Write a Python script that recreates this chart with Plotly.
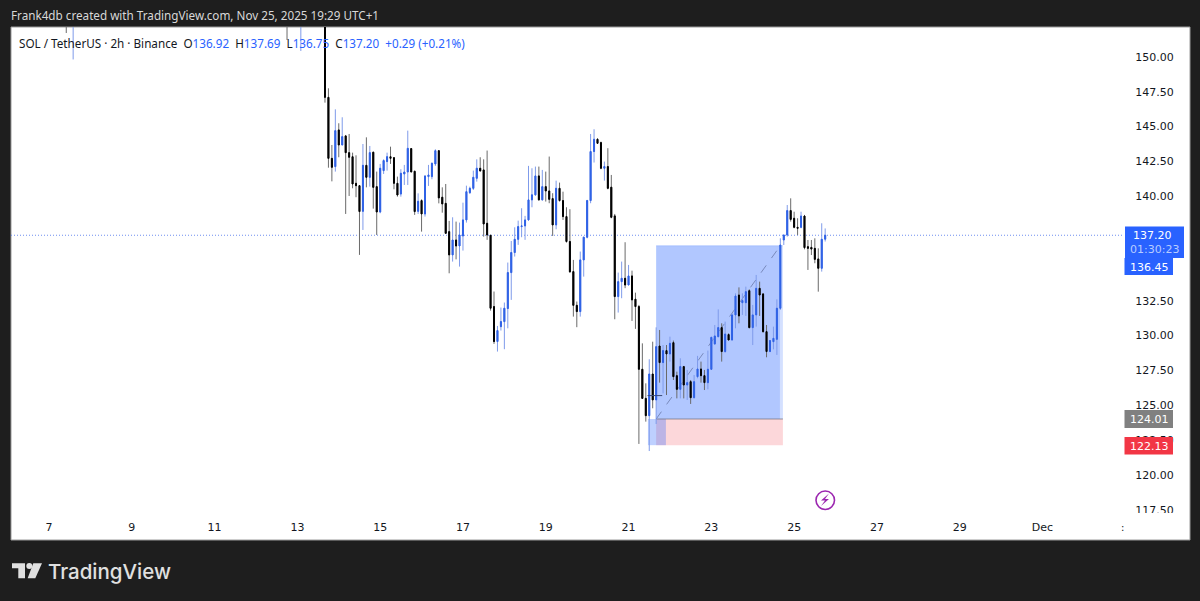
import pandas as pd
import plotly.graph_objects as go

# candles above the visible price range, only their lower wicks show
off_dates = ['2025-11-07 10:00', '2025-11-07 14:00', '2025-11-12 18:00', '2025-11-13 02:00']
off_open = [155.2, 153.0, 156.1, 154.2]
off_high = [156.4, 155.8, 157.3, 156.9]
off_low = [151.72, 149.82, 151.22, 150.43]
off_close = [154.1, 154.6, 155.0, 155.6]

first_bar = '2025-11-13 16:00'
candle_open = [
    153.2, 147.10, 142.72, 142.13, 144.76, 143.68, 144.33, 143.13, 142.84, 140.93,
    140.76, 138.92, 142.22, 141.36, 143.16, 140.69, 138.87, 141.84, 142.49, 142.84,
    142.77, 140.93, 140.16, 141.60, 141.74, 143.42, 141.79, 138.92, 139.69, 138.73,
    141.41, 141.41, 142.32, 143.27, 139.93, 139.49, 137.46, 135.79, 136.86, 136.43,
    137.15, 138.30, 140.26, 140.57, 141.29, 142.01, 141.89, 138.06, 137.20, 132.08,
    129.57, 130.64, 131.00, 131.94, 134.52, 135.96, 136.91, 137.82, 137.87, 138.30,
    139.74, 140.10, 141.46, 139.74, 140.69, 140.38, 139.83, 137.94, 140.57, 139.69,
    138.54, 136.75, 134.59, 132.17, 131.72, 135.43, 137.06, 139.69, 143.21, 144.09,
    143.85, 142.01, 142.13, 140.65, 138.59, 132.80, 133.87, 134.11, 133.63, 134.28,
    132.61, 132.08, 127.58, 125.49, 124.25, 127.24, 125.38, 129.25, 128.06, 128.92,
    128.68, 129.49, 127.12, 126.14, 127.77, 126.45, 126.69, 125.54, 127.05, 127.60,
    127.12, 126.62, 127.58, 129.40, 129.92, 130.57, 128.85, 130.07, 129.68, 131.48,
    132.91, 132.36, 132.36, 133.22, 130.57, 131.48, 133.39, 132.99, 130.28, 128.85,
    129.56, 129.73, 131.96, 136.86, 137.22, 138.97, 138.42, 137.77, 137.77, 138.58,
    136.38, 136.33, 136.26, 135.50, 134.83, 136.92,
]
candle_high = [
    154.0, 147.75, 143.68, 146.24, 145.24, 145.67, 144.40, 144.47, 143.13, 142.94,
    140.76, 143.75, 144.23, 143.61, 143.20, 141.77, 142.32, 142.65, 143.13, 143.56,
    142.80, 141.41, 141.94, 142.25, 144.71, 143.44, 141.84, 140.21, 139.78, 141.46,
    142.25, 142.41, 143.37, 143.32, 140.64, 140.88, 138.23, 138.49, 138.18, 138.11,
    139.54, 140.76, 140.69, 141.84, 142.65, 142.80, 142.65, 143.28, 137.22, 133.16,
    130.69, 132.01, 132.37, 135.24, 136.79, 137.77, 138.25, 139.14, 138.59, 142.18,
    142.01, 142.13, 142.13, 141.89, 141.77, 142.85, 140.22, 141.12, 140.98, 140.33,
    139.21, 139.07, 135.43, 132.44, 136.03, 137.10, 139.74, 144.47, 144.81, 144.16,
    143.92, 142.49, 143.45, 141.53, 138.73, 134.52, 135.31, 136.70, 135.07, 134.66,
    133.08, 132.20, 129.44, 126.57, 128.30, 129.56, 130.59, 130.40, 129.32, 129.32,
    129.92, 129.64, 127.41, 128.37, 127.82, 127.53, 126.81, 127.17, 128.54, 128.13,
    127.53, 128.92, 129.92, 130.76, 131.88, 130.88, 131.00, 130.16, 131.60, 133.03,
    133.46, 133.03, 133.51, 133.32, 132.20, 134.35, 133.87, 133.03, 130.76, 129.64,
    130.64, 132.60, 136.98, 137.22, 139.37, 139.85, 138.89, 138.42, 138.89, 138.66,
    136.86, 136.86, 136.98, 136.26, 138.06, 137.69,
]
candle_low = [
    146.72, 142.05, 141.07, 141.77, 142.80, 143.68, 138.73, 140.02, 140.57, 139.93,
    135.79, 137.58, 140.64, 140.69, 139.11, 137.22, 138.78, 141.60, 141.84, 142.32,
    140.50, 139.97, 139.97, 140.81, 140.81, 141.74, 138.66, 138.73, 137.46, 138.54,
    140.74, 141.22, 142.18, 139.49, 138.82, 137.29, 134.47, 135.31, 135.47, 134.95,
    136.10, 138.11, 140.16, 140.45, 141.05, 141.77, 137.10, 136.87, 131.79, 129.40,
    128.85, 130.36, 129.02, 130.52, 132.56, 135.67, 136.51, 137.06, 136.87, 138.25,
    139.21, 140.04, 139.69, 139.69, 139.62, 139.50, 137.15, 137.63, 139.62, 138.30,
    136.67, 134.52, 131.36, 130.60, 131.36, 134.23, 136.98, 139.50, 142.42, 143.76,
    141.94, 141.12, 140.50, 138.42, 131.17, 131.65, 132.68, 133.40, 133.63, 131.05,
    130.48, 122.22, 125.45, 123.82, 121.71, 124.78, 123.65, 126.62, 125.85, 125.73,
    128.13, 126.81, 125.49, 125.49, 125.49, 125.38, 125.09, 125.49, 126.93, 126.62,
    126.09, 126.14, 127.53, 129.32, 129.87, 128.13, 128.77, 129.68, 129.64, 130.52,
    130.88, 131.48, 131.41, 130.52, 129.32, 130.64, 131.41, 130.21, 128.44, 128.85,
    129.01, 128.61, 131.84, 136.50, 137.10, 138.18, 137.70, 137.22, 137.70, 136.19,
    134.71, 135.78, 135.19, 133.15, 134.59, 136.75,
]
candle_close = [
    147.10, 142.72, 142.08, 144.71, 143.68, 144.28, 143.13, 142.80, 140.88, 140.76,
    138.90, 142.22, 141.36, 143.13, 140.64, 138.87, 142.01, 142.56, 142.84, 142.72,
    140.93, 140.09, 141.65, 141.74, 143.44, 141.74, 138.90, 139.64, 138.73, 141.46,
    141.53, 142.37, 143.27, 139.88, 139.45, 137.34, 135.79, 136.86, 136.43, 137.22,
    138.30, 140.33, 140.57, 141.36, 142.01, 141.82, 138.01, 137.22, 131.96, 129.57,
    130.36, 131.00, 131.96, 134.52, 135.96, 136.91, 137.82, 137.87, 138.30, 139.74,
    140.10, 141.46, 139.74, 140.69, 140.38, 139.78, 137.94, 140.57, 139.69, 138.54,
    136.75, 134.57, 132.17, 131.72, 135.43, 137.06, 139.69, 143.21, 144.09, 143.80,
    142.01, 142.13, 140.57, 138.49, 132.80, 133.87, 134.11, 133.63, 134.28, 132.56,
    132.08, 127.58, 125.49, 124.25, 127.24, 125.38, 129.20, 128.06, 128.92, 128.68,
    129.44, 127.05, 126.14, 127.77, 126.45, 126.62, 125.54, 126.69, 127.60, 127.12,
    126.62, 127.58, 129.87, 129.97, 130.57, 128.85, 130.11, 129.68, 131.48, 132.84,
    131.41, 132.51, 133.15, 130.57, 131.48, 133.39, 132.91, 130.28, 128.85, 129.64,
    129.80, 131.96, 136.50, 137.22, 138.97, 138.34, 137.77, 137.70, 138.58, 136.31,
    136.26, 136.21, 135.47, 134.83, 136.91, 137.20,
]

last_price = 137.20
target_price = 136.45
entry_price = 124.01
stop_price = 122.13
marker_price = 125.69

price_ticks = [117.5, 120, 122.5, 125, 127.5, 130, 132.5, 140, 142.5, 145, 147.5, 150]
date_ticks = ['2025-11-07', '2025-11-09', '2025-11-11', '2025-11-13', '2025-11-15', '2025-11-17',
              '2025-11-19', '2025-11-21', '2025-11-23', '2025-11-25', '2025-11-27', '2025-11-29',
              '2025-12-01']
date_labels = ['7', '9', '11', '13', '15', '17', '19', '21', '23', '25', '27', '29', 'Dec']

BLUE = '#2f62e6'
BLUE_WICK = '#7f9bea'
BLACK = '#000000'
BLACK_WICK = '#6a6a6a'
DARK = '#1e1e1e'
FONT = 'DejaVu Sans'


def px_x(x):
    return (x - 11) / 1111


def px_y(y):
    return (514 - y) / 487


def box(x0, y0, x1, y1, color, layer='above', line=None):
    fig.add_shape(type='rect', xref='paper', yref='paper', x0=px_x(x0), x1=px_x(x1),
                  y0=px_y(y1), y1=px_y(y0), fillcolor=color, layer=layer,
                  line=dict(color=line or color, width=1 if line else 0))


def label(x, y, text, color='#131722', size=11, anchor='center', font=FONT, weight=None):
    fig.add_annotation(xref='paper', yref='paper', x=px_x(x), y=px_y(y), text=text,
                       showarrow=False, xanchor=anchor, yanchor='middle',
                       font=dict(color=color, size=size, family=font, weight=weight))


dates = pd.date_range(first_bar, periods=len(candle_close), freq='2h')
x = list(pd.to_datetime(off_dates)) + list(dates)
opens = off_open + candle_open
highs = off_high + candle_high
lows = off_low + candle_low
closes = off_close + candle_close

fig = go.Figure()

# TradingView wicks look paler than the bodies, so draw them as a separate trace
fig.add_trace(go.Candlestick(
    x=x, open=opens, high=highs, low=lows, close=closes, hoverinfo='skip', showlegend=False,
    increasing=dict(line=dict(color=BLUE_WICK, width=1), fillcolor=BLUE),
    decreasing=dict(line=dict(color=BLACK_WICK, width=1), fillcolor=BLACK)))
fig.add_trace(go.Candlestick(
    x=x, open=opens, close=closes, hoverinfo='skip', showlegend=False,
    high=[max(o, c) for o, c in zip(opens, closes)],
    low=[min(o, c) for o, c in zip(opens, closes)],
    increasing=dict(line=dict(color=BLUE, width=1), fillcolor=BLUE),
    decreasing=dict(line=dict(color=BLACK, width=1), fillcolor=BLACK)))

# white chart panel, extends past the plot under the price and time scales
box(11, 27, 1190, 540, '#ffffff', layer='below', line='#9a9a9a')

# long position tool
fig.add_shape(type='rect', x0='2025-11-21 16:00', x1='2025-11-24 17:30', y0=entry_price, y1=target_price,
              fillcolor='rgba(41,98,255,0.2)', line=dict(width=0), layer='below')
fig.add_shape(type='rect', x0='2025-11-21 16:00', x1='2025-11-24 15:45', y0=entry_price, y1=target_price,
              fillcolor='rgba(41,98,255,0.2)', line=dict(width=0), layer='below')
fig.add_shape(type='rect', x0='2025-11-21 16:00', x1='2025-11-24 17:30', y0=stop_price, y1=entry_price,
              fillcolor='rgba(242,54,69,0.2)', line=dict(width=0), layer='below')
fig.add_shape(type='rect', x0='2025-11-21 11:15', x1='2025-11-21 21:40', y0=stop_price, y1=entry_price,
              fillcolor='rgba(41,98,255,0.3)', line=dict(width=0), layer='below')
fig.add_shape(type='line', x0='2025-11-21 16:00', x1='2025-11-24 17:30', y0=entry_price, y1=entry_price,
              line=dict(color='rgba(110,110,120,0.7)', width=1), layer='below')
fig.add_shape(type='line', x0='2025-11-21 16:00', x1='2025-11-24 17:30', y0=target_price, y1=target_price,
              line=dict(color='rgba(41,98,255,0.2)', width=1), layer='below')
fig.add_shape(type='line', x0='2025-11-21 16:00', x1='2025-11-24 16:00', y0=entry_price, y1=target_price,
              line=dict(color='rgba(90,105,150,0.65)', width=1, dash='dash'), layer='below')
fig.add_shape(type='line', x0='2025-11-21 11:00', x1='2025-11-21 19:30', y0=marker_price, y1=marker_price,
              line=dict(color='#3a4a78', width=1))

# last price line
fig.add_shape(type='line', xref='paper', x0=0, x1=1, y0=last_price, y1=last_price,
              line=dict(color='#6f8ff0', width=1, dash='1px,2px'), layer='below')

# price scale tags
box(1125, 226.5, 1184, 258, '#2962ff')
box(1124.5, 258, 1173, 275, '#2962ff')
box(1124.5, 410, 1173, 428, '#808080')
box(1124.5, 437, 1173, 454.5, '#f23645')
label(1152, 235, '137.20', color='#ffffff')
label(1154, 249, '01:30:23', color='#b9cdff')
label(1149, 267, f'{target_price:.2f}', color='#ffffff')
label(1149, 419.5, f'{entry_price:.2f}', color='#ffffff')
label(1149, 446, f'{stop_price:.2f}', color='#ffffff')

# 117.50 is cut off by the bottom of the pane
box(1125, 513, 1188, 520, '#ffffff')
label(1122.5, 527, ':', size=10)

# header and legend
label(9, 15, 'Frank4db created with TradingView.com, Nov 25, 2025 19:29 UTC+1', color='#d8d8d8',
      size=11.7, anchor='left', font='Noto Sans')
up = '<span style="color:#2962ff">'
label(17, 43, f'SOL / TetherUS · 2h · Binance&nbsp;&nbsp;O{up}136.92</span>&nbsp;&nbsp;H{up}137.69</span>'
              f'&nbsp;&nbsp;L{up}136.75</span>&nbsp;&nbsp;C{up}137.20</span>&nbsp;&nbsp;{up}+0.29 (+0.21%)</span>',
      size=11.7, anchor='left', font='Noto Sans')

# lightning badge
fig.add_shape(type='circle', xref='paper', yref='paper', x0=px_x(816), x1=px_x(834.5), y0=px_y(509.5), y1=px_y(491),
              line=dict(color='#9c27b0', width=1.6), fillcolor='#ffffff')
bolt = [(829, 493.5), (821, 500.5), (825, 500.5), (821, 506), (829, 499), (825, 499)]
fig.add_shape(type='path', xref='paper', yref='paper', fillcolor='#9c27b0', line=dict(width=0),
              path='M ' + ' L '.join(f'{px_x(a):.5f},{px_y(b):.5f}' for a, b in bolt) + ' Z')

# TradingView logo
logo = [
    [(12, 563.3), (25, 563.3), (25, 578.3), (18.3, 578.3), (18.3, 568.3), (12, 568.3)],
    [(33.3, 563.3), (42, 563.3), (35.3, 578.3), (27.7, 578.3)],
]
for part in logo:
    fig.add_shape(type='path', xref='paper', yref='paper', fillcolor='#e0e0e0', line=dict(width=0),
                  path='M ' + ' L '.join(f'{px_x(a):.5f},{px_y(b):.5f}' for a, b in part) + ' Z')
fig.add_shape(type='circle', xref='paper', yref='paper', x0=px_x(26.3), x1=px_x(32.3), y0=px_y(569), y1=px_y(563),
              fillcolor='#e0e0e0', line=dict(width=0))
label(46, 571, 'TradingView', color='#e0e0e0', size=20.5, anchor='left', font='Inter', weight=500)

fig.update_layout(
    width=1200, height=601, margin=dict(l=11, r=78, t=27, b=87),
    paper_bgcolor=DARK, plot_bgcolor='rgba(0,0,0,0)', showlegend=False, boxgap=0.6,
    font=dict(family=FONT, size=11, color='#131722'))
fig.update_xaxes(range=['2025-11-06 01:58', '2025-12-02 22:05'], rangeslider_visible=False, showgrid=False,
                 zeroline=False, showline=False, tickmode='array', tickvals=date_ticks, ticktext=date_labels,
                 ticks='outside', ticklen=3, tickcolor='rgba(0,0,0,0)')
fig.update_yaxes(range=[117.19, 152.15], side='right', showgrid=False, zeroline=False, showline=False,
                 tickmode='array', tickvals=price_ticks, tickformat='.2f',
                 ticks='outside', ticklen=10, tickcolor='rgba(0,0,0,0)')

fig.write_html('out.html', config={'displayModeBar': False},
               post_script="document.body.style.margin='0';document.body.style.overflow='hidden';")
